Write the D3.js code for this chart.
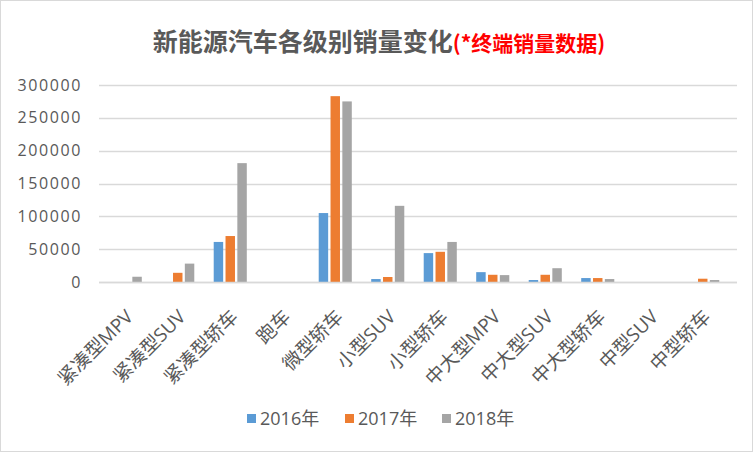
<!DOCTYPE html>
<html><head><meta charset="utf-8">
<script src="https://cdn.jsdelivr.net/npm/d3@7"></script>
<style>
html,body{margin:0;padding:0;background:#fff;}
svg{display:block;font-family:"Open Sans","Noto Sans CJK SC",sans-serif;}
</style></head>
<body>
<svg id="chart" width="753" height="452"></svg>
<script>
const categories = ["紧凑型MPV","紧凑型SUV","紧凑型轿车","跑车","微型轿车","小型SUV","小型轿车","中大型MPV","中大型SUV","中大型轿车","中型SUV","中型轿车"];
const seriesNames = ["2016年","2017年","2018年"];
const s2016 = [0, 0, 61000, 0, 105000, 4500, 44000, 15000, 3000, 6000, 0, 0];
const s2017 = [0, 14000, 70000, 0, 283000, 7600, 46000, 11000, 11000, 6000, 0, 5000];
const s2018 = [8000, 28000, 181000, 0, 275000, 116000, 61000, 10500, 21000, 4500, 0, 3000];
const yTicks = [0, 50000, 100000, 150000, 200000, 250000, 300000];
const colors = ["#5B9BD5", "#ED7D31", "#A5A5A5"];

const series = [s2016, s2017, s2018];
const svg = d3.select("#chart");
const W = 753, H = 452;
const FONT = "'Open Sans','Noto Sans CJK SC',sans-serif";
svg.append("rect").attr("x",0.5).attr("y",0.5).attr("width",W-1).attr("height",H-1)
  .attr("fill","#fff").attr("stroke","#d9d9d9");

const x0 = d3.scaleBand().domain(categories).range([99, 729]).paddingInner(0).paddingOuter(0);
const x1 = d3.scaleBand().domain([0,1,2]).range([x0.bandwidth()*0.185, x0.bandwidth()*0.815]).paddingInner(0.2);
const y = d3.scaleLinear().domain([0, 300000]).range([282, 85]);

// gridlines
svg.append("g").selectAll("line").data(yTicks).join("line")
  .attr("x1", 99).attr("x2", 737)
  .attr("y1", d => Math.round(y(d))+0.5).attr("y2", d => Math.round(y(d))+0.5)
  .attr("stroke", "#d9d9d9").attr("stroke-width", 1.3);

// y axis labels
const yAxis = d3.axisLeft(y).tickValues(yTicks).tickSize(0).tickPadding(0).tickFormat(d3.format("d"));
const gy = svg.append("g").attr("transform","translate(82,0)").call(yAxis);
gy.select(".domain").remove();
gy.selectAll("text").attr("fill","#595959").style("font-size","16px")
  .style("letter-spacing","1.6px").style("font-family",FONT);

// bars
const groups = svg.append("g").selectAll("g").data(categories).join("g")
  .attr("transform", d => `translate(${x0(d)},0)`);
groups.selectAll("rect").data((d,i) => series.map((s,k) => ({k, v: s[i]}))).join("rect")
  .attr("x", d => x1(d.k)).attr("width", x1.bandwidth())
  .attr("y", d => y(d.v)).attr("height", d => y(0) - y(d.v))
  .attr("fill", d => colors[d.k]);

// x axis
const xAxis = d3.axisBottom(x0).tickSize(0).tickPadding(0);
const gx = svg.append("g").attr("transform","translate(0,282)").call(xAxis);
gx.select(".domain").attr("stroke","#d9d9d9").attr("stroke-width",1.3).attr("d","M99,0.5H737");
gx.selectAll("text")
  .attr("fill","#595959").style("font-size","19px")
  .style("font-family",FONT)
  .attr("text-anchor","end").attr("dy",null).attr("y",0)
  .attr("transform","translate(9,36) rotate(-45)");

// title
const title = svg.append("text").attr("x", 379).attr("y", 51).attr("text-anchor","middle")
  .style("font-weight","bold").style("font-family","'Noto Sans CJK SC',sans-serif");
title.append("tspan").text("新能源汽车各级别销量变化").attr("fill","#595959").style("font-size","25px");
title.append("tspan").text("(*终端销量数据)").attr("fill","#FF0000").style("font-size","21px");

// legend
const legendX = [260, 358, 455];
const lg = svg.append("g").selectAll("g").data(seriesNames).join("g")
  .attr("transform", (d,i) => `translate(${legendX[i]},419)`);
lg.append("rect").attr("x",-13).attr("y",-5).attr("width",9).attr("height",9).attr("fill",(d,i)=>colors[i]);
lg.append("text").attr("x",0).attr("y",0).attr("dy","0.36em").text(d=>d)
  .attr("fill","#595959").style("font-size","18px").style("font-family",FONT);
</script>
</body></html>
